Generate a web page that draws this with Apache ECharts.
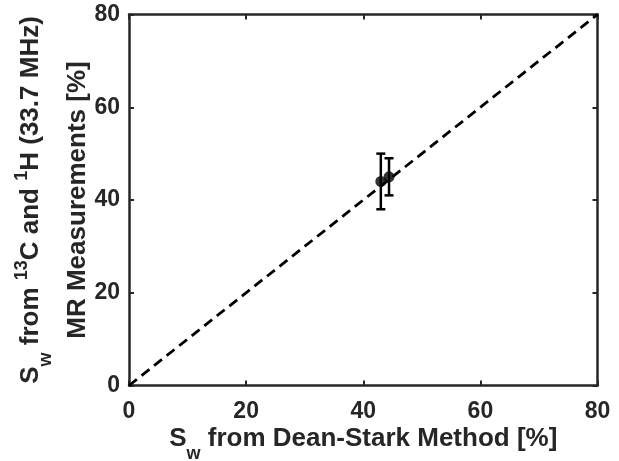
<!DOCTYPE html>
<html>
<head>
<meta charset="utf-8">
<script src="https://cdn.jsdelivr.net/npm/echarts@6/dist/echarts.min.js"></script>
<style>
  html, body { margin: 0; padding: 0; background: #fff; }
  #chart { width: 619px; height: 461px; }
</style>
</head>
<body>
<div id="chart"></div>
<script>
// Water saturation: Dean-Stark reference vs. MR estimate (13C + 1H, 33.7 MHz)
const deanStark = [43, 44.4];      // x, %
const mrMeasured = [44, 45];       // y, %
const mrError = [6, 4];            // ± error, %
const identityX = [0, 80];         // y = x reference line
const axisMin = 0;
const axisMax = 80;
const axisStep = 20;

const FONT = '"Liberation Sans", Arial, sans-serif';
const INK = '#262626';

const points = deanStark.map((x, i) => [x, mrMeasured[i]]);
const errorRows = deanStark.map((x, i) => [x, mrMeasured[i], mrError[i]]);
const identity = identityX.map(v => [v, v]);

const richName = {
  b:   { fontFamily: FONT, fontWeight: 'bold', fontSize: 26, color: INK, lineHeight: 46 },
  sub: { fontFamily: FONT, fontWeight: 'bold', fontSize: 18, color: INK, padding: [30, 0, 0, 0] },
  sup: { fontFamily: FONT, fontWeight: 'bold', fontSize: 18, color: INK, padding: [0, 0, 18, 0] }
};

const tickLabel = { fontFamily: FONT, fontWeight: 'bold', fontSize: 23, color: INK };
const lineStyle = { color: INK, width: 2.5 };
const tickStyle = { inside: true, length: 5, lineStyle: { color: INK, width: 2 } };

function valueAxis(extra) {
  return Object.assign({
    type: 'value',
    min: axisMin,
    max: axisMax,
    interval: axisStep,
    splitLine: { show: false },
    axisLine: { show: true, onZero: false, lineStyle: lineStyle },
    axisTick: tickStyle
  }, extra);
}

const chart = echarts.init(document.getElementById('chart'), null, { renderer: 'canvas' });

chart.setOption({
  animation: false,
  backgroundColor: '#fff',
  grid: {
    left: 129, right: 21.5, top: 14.5, bottom: 75.5,
    containLabel: false,
    outerBoundsMode: 'none'
  },
  xAxis: [
    valueAxis({
      position: 'bottom',
      axisLabel: Object.assign({ margin: 15 }, tickLabel),
      name: '{b|S}{sub|w}{b| from Dean-Stark Method [%]}',
      nameLocation: 'middle',
      nameGap: 29.5,
      nameMoveOverlap: false,
      nameTextStyle: { rich: richName }
    }),
    valueAxis({ position: 'top', axisLabel: { show: false } })
  ],
  yAxis: [
    valueAxis({
      position: 'left',
      axisLabel: Object.assign({ margin: 9 }, tickLabel),
      name: '{b|S}{sub|w}{b| from }{sup|13}{b|C and }{sup|1}{b|H (33.7 MHz)}\n{b|MR Measurements [%]}',
      nameLocation: 'middle',
      nameRotate: 90,
      nameGap: 28,
      nameMoveOverlap: false,
      nameTextStyle: { rich: richName, align: 'center' }
    }),
    valueAxis({ position: 'right', axisLabel: { show: false } })
  ],
  series: [
    {
      type: 'line',
      data: identity,
      symbol: 'none',
      lineStyle: { color: '#000', width: 2.8, type: [10, 6] },
      silent: true,
      z: 2
    },
    {
      type: 'custom',
      data: errorRows,
      encode: { x: 0, y: 1 },
      z: 3,
      renderItem: function (params, api) {
        const x = api.value(0);
        const y = api.value(1);
        const e = api.value(2);
        const hi = api.coord([x, y + e]);
        const lo = api.coord([x, y - e]);
        const half = 4.5;
        const style = { stroke: '#000', lineWidth: 2.5 };
        return {
          type: 'group',
          children: [
            { type: 'line', shape: { x1: hi[0], y1: hi[1], x2: lo[0], y2: lo[1] }, style: style },
            { type: 'line', shape: { x1: hi[0] - half, y1: hi[1], x2: hi[0] + half, y2: hi[1] }, style: style },
            { type: 'line', shape: { x1: lo[0] - half, y1: lo[1], x2: lo[0] + half, y2: lo[1] }, style: style }
          ]
        };
      }
    },
    {
      type: 'scatter',
      data: points,
      symbol: 'circle',
      symbolSize: 11,
      itemStyle: { color: '#000' },
      z: 4
    }
  ]
});
</script>
</body>
</html>
